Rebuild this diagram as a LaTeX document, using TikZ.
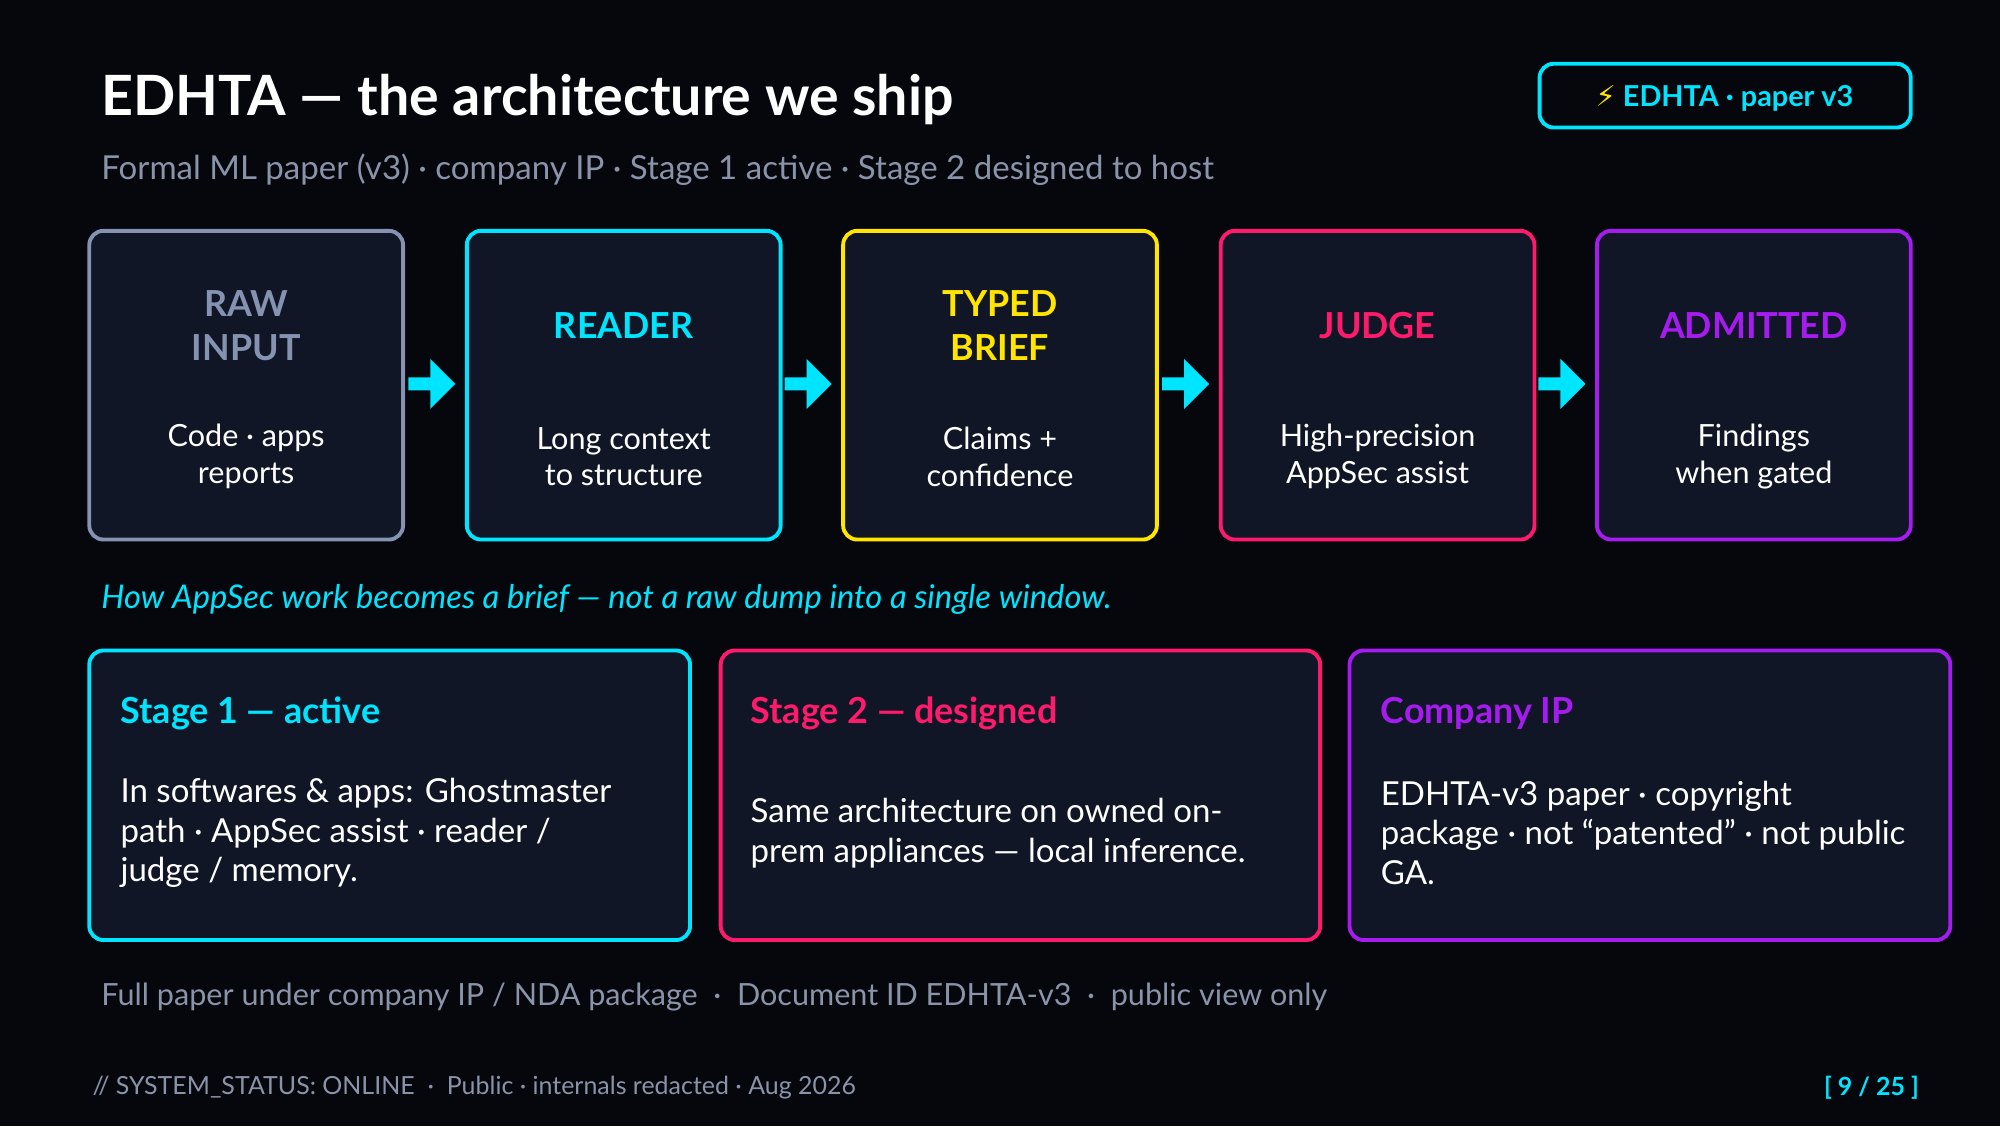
\documentclass[tikz,border=0pt]{standalone}
\usepackage{fontspec}
\setmainfont{Lato}
\newfontfamily\djv{DejaVu Sans}
\usetikzlibrary{shapes.arrows}
\definecolor{bg}{HTML}{05070D}
\definecolor{boxfill}{HTML}{101626}
\definecolor{cgray}{HTML}{8592B0}
\definecolor{ccyan}{HTML}{00E5FF}
\definecolor{cyel}{HTML}{FFE500}
\definecolor{cpink}{HTML}{FF1A6C}
\definecolor{cpurp}{HTML}{A61CF0}
\definecolor{tgray}{HTML}{8A93A8}
\tikzset{
 box/.style={draw=#1,line width=1.1pt,fill=boxfill,rounded corners=4pt},
 btitle/.style={font=\fontsize{10.2}{12.5}\selectfont\bfseries,text=#1,align=center},
 bbody/.style={font=\fontsize{8.7}{10.5}\selectfont,text=white,align=center},
 arr/.style={single arrow,fill=ccyan,draw=none,minimum height=0.47cm,minimum width=0.5cm,single arrow head extend=0.08cm,inner sep=0.6pt},
 lt/.style={anchor=west,inner xsep=0pt},
 ltitle/.style={lt,font=\fontsize{10.2}{12}\selectfont\bfseries,text=#1},
 lbody/.style={lt,font=\fontsize{9.4}{11.3}\selectfont,text=white,align=left},
}
\begin{document}
\begin{tikzpicture}[x=0.0127551cm,y=-0.0127551cm]
\fill[bg] (0,0) rectangle (1568,883);
\useasboundingbox (0,0) rectangle (1568,883);
\node[lt,text=white,font=\fontsize{15.8}{19}\selectfont\bfseries] (title) at (79,78) {EDHTA — the architecture we ship};
\node[lt,text=tgray,font=\fontsize{9.4}{11}\selectfont] (sub) at (79,133) {Formal ML paper (v3) · company IP · Stage 1 active · Stage 2 designed to host};
\draw[draw=ccyan,line width=1.1pt,fill=bg,rounded corners=4pt] (1207,50) rectangle (1498,100);
\node[text=ccyan,font=\fontsize{8.2}{10}\selectfont\bfseries] (badge) at (1352,77) {{\djv\color{cyel}⚡} EDHTA · paper v3};
% top boxes
\foreach \x/\c/\t/\b/\n in {70/cgray/RAW\\INPUT/Code · apps\\reports/a,366/ccyan/READER/Long context\\to structure/b,661/cyel/TYPED\\BRIEF/Claims +\\confidence/c,957/cpink/JUDGE/High-precision\\AppSec assist/d,1252/cpurp/ADMITTED/Findings\\when gated/e}{
 \draw[box=\c] (\x,181) rectangle ++(246,242);
 \node[btitle=\c] (t\n) at (\x+123,255) {\t};
 \node[bbody] (b\n) at (\x+123,358) {\b};
}
\foreach \x in {336,631,927,1222}{\node[arr] at (\x,301) {};}
\node[lt,text=ccyan,font=\fontsize{9.3}{10}\selectfont\itshape] (cap) at (79,470) {How AppSec work becomes a brief — not a raw dump into a single window.};
% bottom boxes
\draw[box=ccyan] (70,510) rectangle (541,737);
\node[ltitle=ccyan] (s1) at (94,559) {Stage 1 — active};
\node[lbody] (s1b) at (94,653) {In softwares \& apps: Ghostmaster\\path · AppSec assist · reader /\\judge / memory.};
\draw[box=cpink] (565,510) rectangle (1035,737);
\node[ltitle=cpink] (s2) at (588,559) {Stage 2 — designed};
\node[lbody] (s2b) at (588,653) {Same architecture on owned on-\\prem appliances — local inference.};
\draw[box=cpurp] (1058,510) rectangle (1529,737);
\node[ltitle=cpurp] (s3) at (1082,559) {Company IP};
\node[lbody] (s3b) at (1082,653) {EDHTA-v3 paper · copyright\\package · not “patented” · not public\\GA.};
\node[lt,text=tgray,font=\fontsize{8.7}{10}\selectfont] (foot) at (79,782) {Full paper under company IP / NDA package \ · \ Document ID EDHTA-v3 \ · \ public view only};
\node[lt,text=tgray,font=\fontsize{7.1}{8}\selectfont] (stat) at (72,853) {// SYSTEM\_STATUS: ONLINE \ · \ Public · internals redacted · Aug 2026};
\node[anchor=east,inner xsep=0pt,text=ccyan,font=\fontsize{7.1}{8}\selectfont\bfseries] (pg) at (1505,853) {[ 9 / 25 ]};
\end{tikzpicture}
\end{document}
